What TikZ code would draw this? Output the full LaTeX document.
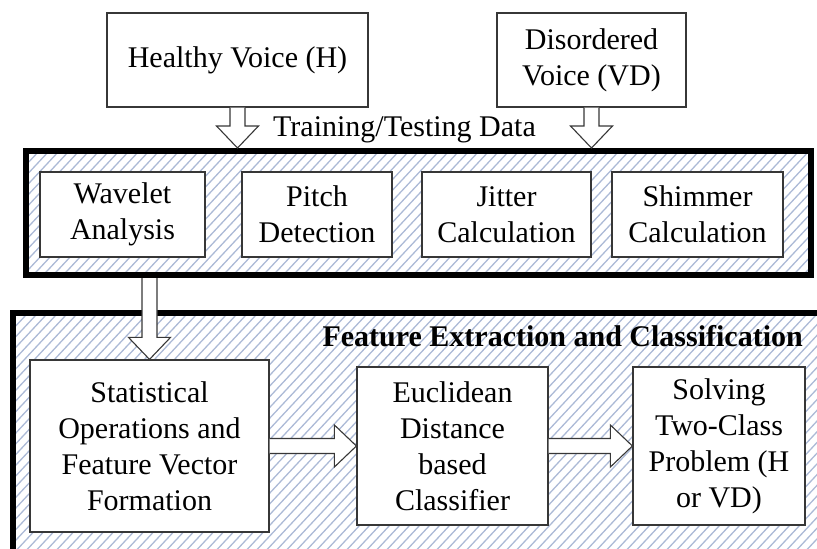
\documentclass[tikz,border=0pt]{standalone}
\usepackage{fontspec}
\setmainfont{Liberation Serif}
\usetikzlibrary{calc,fit}

\definecolor{hatchblue}{RGB}{172,186,214}
\definecolor{boxline}{RGB}{55,55,55}

\tikzset{
  stepbox/.style={draw=boxline, line width=1.2pt, fill=white, align=center,
    inner sep=0pt, font=\fontsize{30}{36}\selectfont},
  frame/.style={draw=black, line width=6pt, inner sep=0pt},
  fat/.style={draw=boxline, line width=1.1pt, fill=white, line join=miter},
  hatch/.style={draw=hatchblue, line width=1.3pt},
  plaintext/.style={inner sep=0pt, font=\fontsize{30}{36}\selectfont},
}

% hollow block arrow pointing down: shaft starts at #1, tip at #2
\newcommand\fatdown[2]{%
  \draw[fat] ($(#1)+(-7.5,0)$) -- ($(#2)+(-7.5,-22)$) -- ($(#2)+(-21,-22)$)
    -- (#2) -- ($(#2)+(21,-22)$) -- ($(#2)+(7.5,-22)$) -- ($(#1)+(7.5,0)$);}
% hollow block arrow pointing right: shaft starts at #1, tip at #2
\newcommand\fatright[2]{%
  \draw[fat] ($(#1)+(0,-7.5)$) -- ($(#2)+(-22,-7.5)$) -- ($(#2)+(-22,-21)$)
    -- (#2) -- ($(#2)+(-22,21)$) -- ($(#2)+(-22,7.5)$) -- ($(#1)+(0,7.5)$);}

\begin{document}
\begin{tikzpicture}[x=1pt, y=-1pt]
\useasboundingbox (0,0) rectangle (817,549);

% frame corners
\coordinate (t1) at (25.5,151);
\coordinate (t2) at (810.5,275);
\coordinate (b1) at (13,313);
\coordinate (b2) at (845,580);

% diagonal hatching inside both frames
\begin{scope}
  \clip (t1) rectangle (t2);
  \foreach \x in {-700,-690,...,860} \draw[hatch] (\x,600) -- ++(560,-600);
\end{scope}
\begin{scope}
  \clip (b1) rectangle (b2);
  \foreach \x in {-700,-690,...,860} \draw[hatch] (\x,600) -- ++(560,-600);
\end{scope}

% frames
\node[frame, fit=(t1)(t2)] (top) {};
\node[frame, fit=(b1)(b2)] (bot) {};

% input sources
\node[stepbox, minimum width=261, minimum height=94] (H) at (237.5,60) {Healthy Voice (H)};
\node[stepbox, minimum width=189, minimum height=94] (VD) at (591.5,60) {Disordered\\Voice (VD)};
\node[plaintext, anchor=base west] (data) at (273,136) {Training/Testing Data};

% analysis stages
\node[stepbox, minimum width=165, minimum height=85] (wav) at (122.5,214.5) {Wavelet\\Analysis};
\node[stepbox, minimum width=150, minimum height=85] (pit) at (317,214.5) {Pitch\\Detection};
\node[stepbox, minimum width=169, minimum height=85] (jit) at (506.5,214.5) {Jitter\\Calculation};
\node[stepbox, minimum width=171, minimum height=85] (shi) at (697.5,214.5) {Shimmer\\Calculation};

% feature extraction and classification
\node[plaintext, anchor=base east, font=\fontsize{30}{36}\selectfont\bfseries] (title) at (803,346)
  {Feature Extraction and Classification};
\node[stepbox, minimum width=239, minimum height=172] (S) at (149.5,446)
  {Statistical\\Operations and\\Feature Vector\\Formation};
\node[stepbox, minimum width=191, minimum height=158] (E) at (452.5,446)
  {Euclidean\\Distance\\based\\Classifier};
\node[stepbox, minimum width=172, minimum height=158] (P) at (719,446)
  {Solving\\Two-Class\\Problem (H\\or VD)};

% block arrows
\coordinate (hT) at (H.south |- top.north);
\coordinate (vT) at (VD.south |- top.north);
\coordinate (sT) at (S.north |- top.south);
\fatdown{H.south}{hT}
\fatdown{VD.south}{vT}
\fatdown{sT}{S.north}
\fatright{S.east}{E.west}
\fatright{E.east}{P.west}
\end{tikzpicture}
\end{document}
